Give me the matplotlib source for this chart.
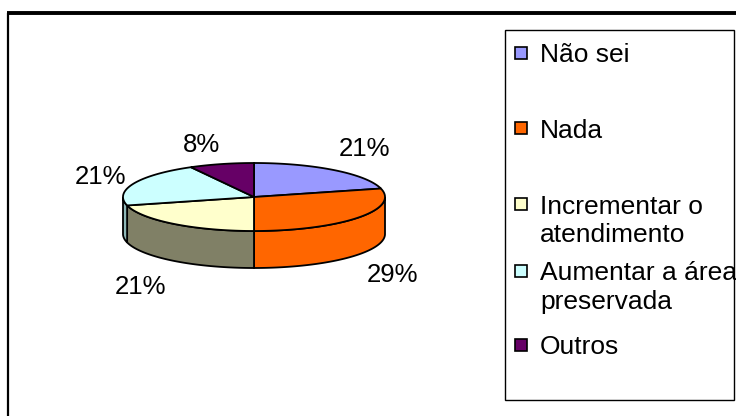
import numpy as np
import matplotlib.pyplot as plt
from matplotlib.patches import Polygon, Rectangle

plt.rcParams['font.family'] = ['Liberation Sans', 'DejaVu Sans']

# Data
labels = ['Não sei', 'Nada', 'Incrementar o\natendimento', 'Aumentar a área\npreservada', 'Outros']
values = [21, 29, 21, 21, 8]
pct_text = ['21%', '29%', '21%', '21%', '8%']
top_colors = ['#9999FF', '#FF6600', '#FFFFCC', '#CCFFFF', '#660066']
side_colors = ['#7373BF', '#FF6600', '#808066', '#8FB8B8', '#4D004D']

# Geometry of the 3D pie (pixel units)
cx, cy = 254, 197
a, b = 131, 34
depth = 37

# label centres (layout), legend row centres
pct_pos = [(364, 147), (392, 272), (140, 285), (100, 175), (202, 143)]
leg_y = [53, 128, 204, 271, 345]
line_step = 28

fig = plt.figure(figsize=(7.36, 4.16), dpi=100)
ax = fig.add_axes([0, 0, 1, 1])
ax.set_xlim(0, 736)
ax.set_ylim(416, 0)
ax.axis('off')

# outer chart frame
ax.plot([8, 8], [416, 13], color='black', lw=1.6, solid_capstyle='butt')
ax.plot([7, 736], [13, 13], color='black', lw=2.8, solid_capstyle='butt')


def ell(t, dy=0):
    return np.column_stack([cx + a * np.cos(t), cy - b * np.sin(t) + dy])


total = sum(values)
angles = [np.pi / 2]
for v in values:
    angles.append(angles[-1] - v / total * 2 * np.pi)

# side walls (front half only)
for i in range(len(values)):
    t1, t0 = angles[i], angles[i + 1]
    segs = []
    for lo_lim, hi_lim in [(-np.pi, 0), (-3 * np.pi, -2 * np.pi)]:
        lo, hi = max(t0, lo_lim), min(t1, hi_lim)
        if lo < hi:
            segs.append((lo, hi))
    for lo, hi in segs:
        t = np.linspace(lo, hi, 80)
        pts = np.vstack([ell(t), ell(t[::-1], depth)])
        ax.add_patch(Polygon(pts, closed=True, fc=side_colors[i], ec='black', lw=1.3))

# top faces
for i in range(len(values)):
    t = np.linspace(angles[i], angles[i + 1], 120)
    pts = np.vstack([[cx, cy], ell(t)])
    ax.add_patch(Polygon(pts, closed=True, fc=top_colors[i], ec='black', lw=1.3))

# percentage labels
for (lx, ly), s in zip(pct_pos, pct_text):
    ax.text(lx, ly + 9.5, s, ha='center', va='baseline', fontsize=18.5)

# legend box
ax.add_patch(Rectangle((505, 30), 229, 370, fill=False, ec='black', lw=1.0))
for i, lab in enumerate(labels):
    ax.add_patch(Rectangle((515, leg_y[i] - 6), 12, 12, fc=top_colors[i], ec='black', lw=1.2))
    for k, part in enumerate(lab.split('\n')):
        ax.text(540, leg_y[i] + 9.5 + k * line_step, part, ha='left', va='baseline', fontsize=19)

fig.savefig('out.png', dpi=100)
